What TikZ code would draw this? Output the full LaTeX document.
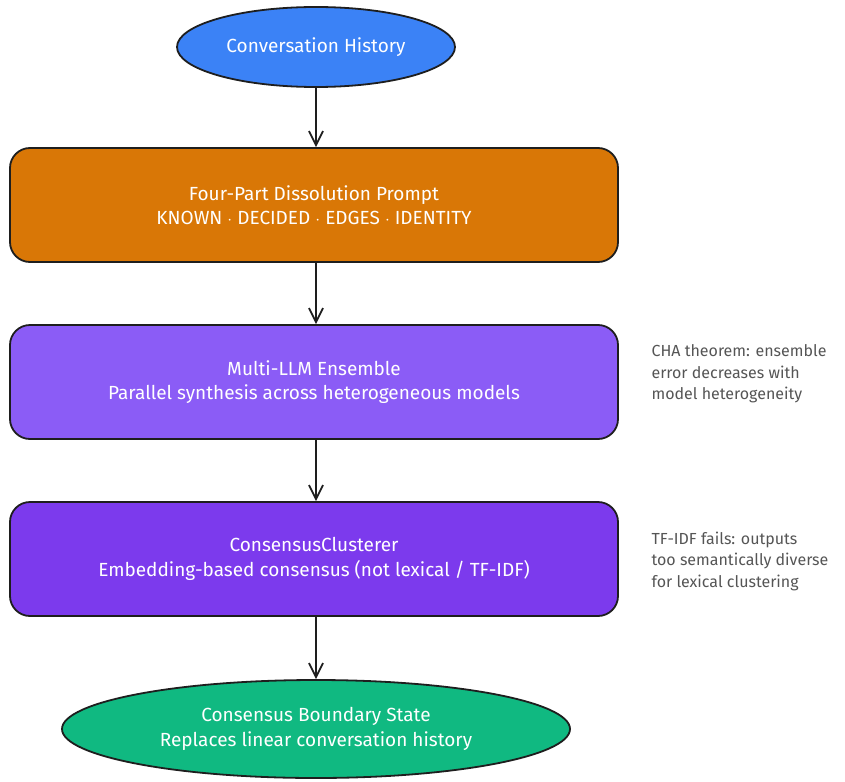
\documentclass[tikz,border=0pt]{standalone}
\usepackage{fontspec}
\setmainfont{Fira Sans}
\usetikzlibrary{shapes.geometric,arrows.meta}
\definecolor{histblue}{HTML}{3B82F6}
\definecolor{promptorange}{HTML}{D97706}
\definecolor{ensviolet}{HTML}{8B5CF6}
\definecolor{clusviolet}{HTML}{7C3AED}
\definecolor{stategreen}{HTML}{10B981}
\definecolor{inkdark}{HTML}{1E1E1E}
\definecolor{notegray}{HTML}{555555}
\begin{document}
\begin{tikzpicture}[x=1pt,y=-1pt]
				\tikzstyle{every node}=[font=\fontsize{19}{24.5}\selectfont,text=white,align=center]
				\tikzstyle{stagebox}=[draw=inkdark,line width=1.8pt,rounded corners=20pt,
				minimum width=608pt,minimum height=114pt]
				\tikzstyle{endcap}=[draw=inkdark,line width=1.8pt,ellipse,inner sep=0pt]
				\tikzstyle{sidenote}=[anchor=north west,align=left,text=notegray,
				font=\fontsize{16}{21.5}\selectfont]
				\tikzstyle{flow}=[draw=inkdark,line width=1.8pt,
				-{Straight Barb[length=14pt,width=14pt,line width=1.8pt]}]
				\useasboundingbox (0,0) rectangle (845,781);
				\node[endcap,fill=histblue,minimum width=278pt,minimum height=80pt] (history) at (316,47) {Conversation History};
				\node[stagebox,fill=promptorange] (prompt) at (314,205) {Four-Part Dissolution Prompt\\KNOWN $\cdot$ DECIDED $\cdot$ EDGES $\cdot$ IDENTITY};
				\node[stagebox,fill=ensviolet] (ensemble) at (314,382) {Multi-LLM Ensemble\\Parallel synthesis across heterogeneous models};
				\node[stagebox,fill=clusviolet] (clusterer) at (314,559) {ConsensusClusterer\\Embedding-based consensus (not lexical / TF-IDF)};
				\node[endcap,fill=stategreen,minimum width=508pt,minimum height=98pt] (state) at (316,729) {Consensus Boundary State\\Replaces linear conversation history};
				\node[sidenote] (chanote) at (648,341) {CHA theorem: ensemble\\error decreases with\\model heterogeneity};
				\node[sidenote] (tfidfnote) at (648,528) {TF-IDF fails: outputs\\too semantically diverse\\for lexical clustering};
				\draw[flow] (history) -- (history|-prompt.north);
				\draw[flow] (prompt.south-|history) -- (history|-ensemble.north);
				\draw[flow] (ensemble.south-|history) -- (history|-clusterer.north);
				\draw[flow] (clusterer.south-|history) -- (state);
\end{tikzpicture}
\end{document}
